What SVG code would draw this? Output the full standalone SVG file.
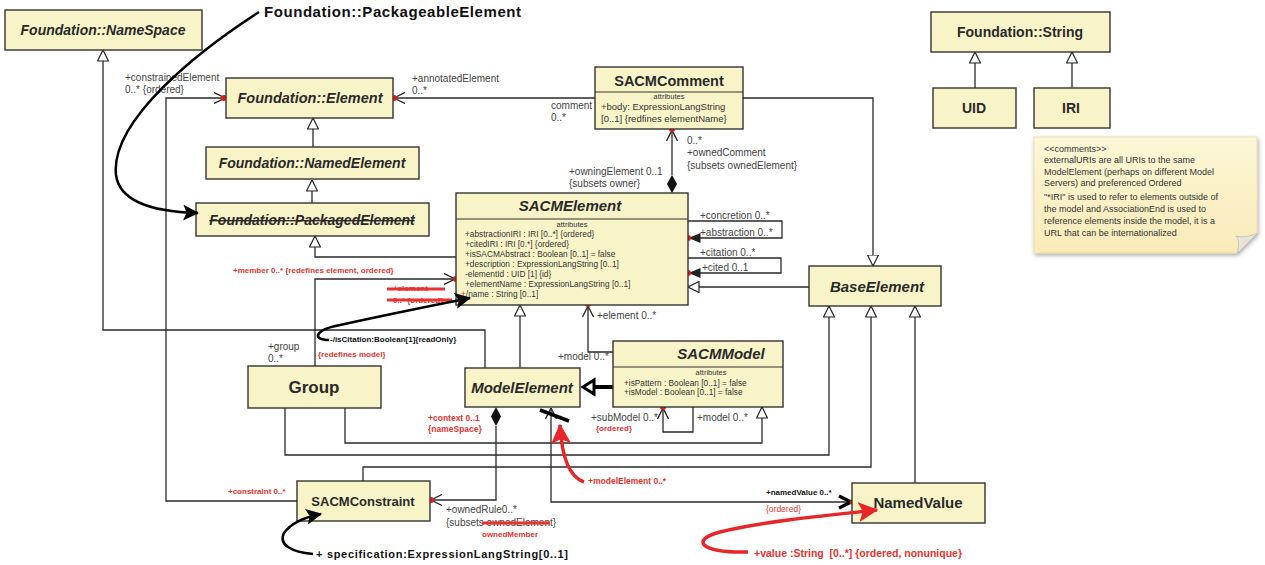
<svg xmlns="http://www.w3.org/2000/svg" width="1265" height="565" viewBox="0 0 1265 565">
  <defs>
    <style>
      .box{fill:#f8f4c8;stroke:#333;stroke-width:1.4}
      .ln{fill:none;stroke:#2a2a2a;stroke-width:1.3}
      .t{font-family:"Liberation Sans",Arial,sans-serif;font-weight:bold;fill:#2a2a2a;text-anchor:middle}
      .ti{font-style:italic}
      .lbl{font-family:"Liberation Sans",Arial,sans-serif;font-size:10px;fill:#444}
      .att{font-family:"Liberation Sans",Arial,sans-serif;font-size:8.3px;fill:#333}
      .hdr{font-family:"Liberation Sans",Arial,sans-serif;font-size:7.5px;fill:#333;text-anchor:middle}
      .big{font-size:9.5px}
      .red{font-family:"Liberation Sans",Arial,sans-serif;font-weight:bold;fill:#e8322f}
      .reg{font-weight:normal}
      .blk{font-family:"Liberation Sans",Arial,sans-serif;font-weight:bold;fill:#111}
      .dot{fill:#e81919}
      .strike{stroke:#e8322f;stroke-width:3}
      .note{font-family:"Liberation Sans",Arial,sans-serif;font-size:9px;fill:#333}
    </style>
    <marker id="gen" viewBox="0 0 12 12" refX="11.5" refY="6" markerWidth="12" markerHeight="12" markerUnits="userSpaceOnUse" orient="auto">
      <path d="M0.5,0.5 L11.5,6 L0.5,11.5 Z" fill="#fff" stroke="#222" stroke-width="1.2"/>
    </marker>
    <marker id="open" viewBox="0 0 12 12" refX="11.5" refY="6" markerWidth="12" markerHeight="12" markerUnits="userSpaceOnUse" orient="auto">
      <path d="M0.5,0.5 L11.5,6 L0.5,11.5" fill="none" stroke="#222" stroke-width="1.3"/>
    </marker>
    <marker id="fill" viewBox="0 0 12 12" refX="11.5" refY="6" markerWidth="12" markerHeight="12" markerUnits="userSpaceOnUse" orient="auto">
      <path d="M0,1 L12,6 L0,11 Z" fill="#222"/>
    </marker>
    <marker id="bigblk" viewBox="0 0 14 14" refX="13" refY="7" markerWidth="16" markerHeight="16" markerUnits="userSpaceOnUse" orient="auto">
      <path d="M0,0 L14,7 L0,14 L3,7 Z" fill="#000"/>
    </marker>
    <marker id="bigred" viewBox="0 0 14 14" refX="13" refY="7" markerWidth="20" markerHeight="20" markerUnits="userSpaceOnUse" orient="auto">
      <path d="M0,0 L14,7 L0,14 L3,7 Z" fill="#e8262a"/>
    </marker>
    <linearGradient id="noteFill" x1="0" y1="0" x2="0" y2="1">
      <stop offset="0" stop-color="#fdf7d6"/>
      <stop offset="1" stop-color="#f9eab8"/>
    </linearGradient>
    <filter id="shadow" x="-10%" y="-10%" width="120%" height="130%">
      <feGaussianBlur in="SourceAlpha" stdDeviation="2"/>
      <feOffset dx="1" dy="2"/>
      <feComponentTransfer><feFuncA type="linear" slope="0.35"/></feComponentTransfer>
      <feMerge><feMergeNode/><feMergeNode in="SourceGraphic"/></feMerge>
    </filter>
  </defs>

  <rect width="1265" height="565" fill="#fff"/>

  <!-- connectors -->
  <g id="connectors">
    <!-- generalizations -->
    <path class="ln" d="M485,368 V330 H103 V50" marker-end="url(#gen)"/>
    <path class="ln" d="M313,147 V118" marker-end="url(#gen)"/>
    <path class="ln" d="M312,203 V180" marker-end="url(#gen)"/>
    <path class="ln" d="M456,257 H315 V236" marker-end="url(#gen)"/>
    <path class="ln" d="M743,98 H873 V266" marker-end="url(#gen)"/>
    <path class="ln" d="M809,287 H688" marker-end="url(#gen)"/>
    <path class="ln" d="M520,368 V305" marker-end="url(#gen)"/>
    <path class="ln" d="M345,408 V443 H762 V407" marker-end="url(#gen)"/>
    <path class="ln" d="M285,408 V455 H829 V306" marker-end="url(#gen)"/>
    <path class="ln" d="M363,481 V467 H871 V306" marker-end="url(#gen)"/>
    <path class="ln" d="M915,483 V306" marker-end="url(#gen)"/>
    <path class="ln" d="M975,88 V52" marker-end="url(#gen)"/>
    <path class="ln" d="M1072,88 V52" marker-end="url(#gen)"/>
    <!-- thick generalization SACMModel to ModelElement -->
    <path d="M613,387 H594" fill="none" stroke="#000" stroke-width="4"/>
    <path d="M594,380 L583,387 L594,394 Z" fill="#fff" stroke="#000" stroke-width="3" stroke-linejoin="miter"/>

    <!-- associations -->
    <path class="ln" d="M297,501 H166 V98 H225" marker-end="url(#open)"/>
    <path class="ln" d="M595,98 H394" marker-end="url(#open)"/>
    <path class="ln" d="M315,366 V279 H455" marker-end="url(#open)"/>
    <path class="ln" d="M672,175 V130" marker-end="url(#open)"/>
    <path d="M672,193 L677,184 L672,175 L667,184 Z" fill="#111"/>
    <path class="ln" d="M688,221 H782 V238 H689" marker-end="url(#fill)"/>
    <path class="ln" d="M688,258 H781 V273 H689" marker-end="url(#fill)"/>
    <path class="ln" d="M613,352 H588 V306" marker-end="url(#open)"/>
    <path class="ln" d="M693,407 V432 H663 V408" marker-end="url(#open)"/>
    <path class="ln" d="M496,426 V500 H431" marker-end="url(#open)"/>
    <path d="M496,407 L501,416.5 L496,426 L491,416.5 Z" fill="#111"/>
    <path class="ln" d="M551,420 V502 H851"/>
    <path class="ln" d="M551,420 V408" marker-end="url(#open)"/>
    <path d="M540,410 L569,421" stroke="#000" stroke-width="3.5"/>
    <path d="M839,496 L851,502 L839,508" fill="none" stroke="#000" stroke-width="3.5"/>

    <!-- end dots -->
    <circle class="dot" cx="224" cy="98" r="3"/>
    <circle class="dot" cx="394" cy="98" r="3"/>
    <circle class="dot" cx="456" cy="279" r="3"/>
    <circle class="dot" cx="672" cy="129" r="3"/>
    <circle class="dot" cx="688" cy="238" r="3"/>
    <circle class="dot" cx="688" cy="273" r="3"/>
    <circle class="dot" cx="588" cy="304" r="3"/>
    <circle class="dot" cx="663" cy="407" r="3"/>
    <circle class="dot" cx="431" cy="500" r="3"/>
    <circle class="dot" cx="852" cy="502" r="2.5"/>

    <!-- connector labels -->
    <text class="lbl" x="125" y="81">+constrainedElement</text>
    <text class="lbl" x="125" y="93">0..* {ordered}</text>
    <text class="lbl" x="412" y="82">+annotatedElement</text>
    <text class="lbl" x="412" y="94">0..*</text>
    <text class="lbl" x="551" y="109">comment</text>
    <text class="lbl" x="551" y="121">0..*</text>
    <text class="lbl" x="687" y="144">0..*</text>
    <text class="lbl" x="687" y="156">+ownedComment</text>
    <text class="lbl" x="687" y="169">{subsets ownedElement}</text>
    <text class="lbl" x="569" y="175">+owningElement  0..1</text>
    <text class="lbl" x="569" y="187">{subsets owner}</text>
    <text class="lbl" x="700" y="219">+concretion 0..*</text>
    <text class="lbl" x="700" y="236">+abstraction 0..*</text>
    <text class="lbl" x="700" y="256">+citation 0..*</text>
    <text class="lbl" x="702" y="271">+cited 0..1</text>
    <text class="lbl" x="597" y="319">+element 0..*</text>
    <text class="lbl" x="558" y="360">+model 0..*</text>
    <text class="lbl" x="268" y="350">+group</text>
    <text class="lbl" x="268" y="362">0..*</text>
    <text class="lbl" x="591" y="421">+subModel 0..*</text>
    <text class="lbl" x="697" y="421">+model 0..*</text>
    <text class="lbl" x="446" y="513">+ownedRule0..*</text>
    <text class="lbl" x="446" y="526">{subsets ownedElement}</text>
    <line class="strike" x1="482" y1="523" x2="550" y2="523"/>

    <text class="red" x="233" y="273" font-size="8">+member 0..* {redefines element, ordered}</text>
    <text class="red" x="393" y="291" font-size="8">+element</text>
    <text class="red" x="393" y="303" font-size="8">0..* {ordered}</text>
    <line class="strike" x1="387" y1="289" x2="445" y2="289"/>
    <line class="strike" x1="387" y1="300" x2="452" y2="300"/>
    <text class="red" x="318" y="357" font-size="8">{redefines model}</text>
    <text class="red" x="596" y="431" font-size="8">{ordered}</text>
    <text class="red" x="428" y="421" font-size="8.5">+context 0..1</text>
    <text class="red" x="428" y="432" font-size="8.5">{nameSpace}</text>
    <text class="red" x="588" y="484" font-size="8.5">+modelElement 0..*</text>
    <text class="red" x="228" y="494" font-size="8">+constraint 0..*</text>
    <text class="red" x="482" y="537" font-size="8">ownedMember</text>
    <text class="blk" x="766" y="495" font-size="8">+namedValue 0..*</text>
    <text class="red reg" x="766" y="512" font-size="8.5">{ordered}</text>
    <text class="blk" x="330" y="342" font-size="8">-/isCitation:Boolean[1]{readOnly}</text>
    <text class="red" x="754" y="557" font-size="10.5" xml:space="preserve">+value :String  [0..*] {ordered, nonunique}</text>
    <text class="blk" x="264" y="17" font-size="15" textLength="257">Foundation::PackageableElement</text>
    <text class="blk" x="316" y="558" font-size="11" textLength="252">+ specification:ExpressionLangString[0..1]</text>
  </g>

  <!-- nodes -->
  <g id="NameSpace">
    <rect class="box" x="5" y="10" width="197" height="40"/>
    <text class="t ti" x="103" y="35" font-size="14">Foundation::NameSpace</text>
  </g>
  <g id="Element">
    <rect class="box" x="226" y="78" width="167" height="40"/>
    <text class="t ti" x="310" y="103" font-size="14.5">Foundation::Element</text>
  </g>
  <g id="NamedElement">
    <rect class="box" x="206" y="147" width="213" height="32"/>
    <text class="t ti" x="312" y="168" font-size="14">Foundation::NamedElement</text>
  </g>
  <g id="PackagedElement">
    <rect class="box" x="196" y="203" width="233" height="33"/>
    <text class="t ti" x="312" y="225" font-size="14" text-decoration="line-through">Foundation::PackagedElement</text>
  </g>
  <g id="SACMComment">
    <rect class="box" x="595" y="67" width="148" height="62"/>
    <line x1="595" y1="92" x2="743" y2="92" stroke="#333" stroke-width="1.2"/>
    <text class="t" x="669" y="86" font-size="14.5">SACMComment</text>
    <text class="hdr" x="669" y="99">attributes</text>
    <text class="att big" x="601" y="110">+body: ExpressionLangString</text>
    <text class="att big" x="601" y="122">[0..1] {redfines elementName}</text>
  </g>
  <g id="SACMElement">
    <rect class="box" x="456" y="193" width="232" height="112"/>
    <line x1="456" y1="219" x2="688" y2="219" stroke="#333" stroke-width="1.2"/>
    <text class="t ti" x="570" y="211" font-size="15">SACMElement</text>
    <text class="hdr" x="572" y="227">attributes</text>
    <text class="att" x="465" y="237">+abstractionIRI : IRI [0..*] {ordered}</text>
    <text class="att" x="465" y="247">+citedIRI : IRI [0.*] {ordered}</text>
    <text class="att" x="465" y="257">+isSACMAbstract : Boolean [0..1] = false</text>
    <text class="att" x="465" y="267">+description : ExpressionLangString [0..1]</text>
    <text class="att" x="465" y="277">-elementId : UID [1] {id}</text>
    <text class="att" x="465" y="287">+elementName : ExpressionLangString [0..1]</text>
    <text class="att" x="461" y="297"><tspan fill="#e8322f">+</tspan>/name : String [0..1]</text>
  </g>
  <g id="BaseElement">
    <rect class="box" x="809" y="266" width="132" height="40"/>
    <text class="t ti" x="877" y="292" font-size="15">BaseElement</text>
  </g>
  <g id="SACMModel">
    <rect class="box" x="613" y="341" width="170" height="66"/>
    <line x1="613" y1="367" x2="783" y2="367" stroke="#333" stroke-width="1.2"/>
    <text class="t ti" x="721" y="359" font-size="15">SACMModel</text>
    <text class="hdr" x="711" y="375">attributes</text>
    <text class="att" x="624" y="386">+isPattern : Boolean [0..1] = false</text>
    <text class="att" x="624" y="395">+isModel : Boolean [0..1] = false</text>
  </g>
  <g id="Group">
    <rect class="box" x="248" y="366" width="133" height="42"/>
    <text class="t" x="314" y="393" font-size="17">Group</text>
  </g>
  <g id="ModelElement">
    <rect class="box" x="465" y="368" width="115" height="39"/>
    <text class="t ti" x="522" y="393" font-size="15">ModelElement</text>
  </g>
  <g id="SACMConstraint">
    <rect class="box" x="297" y="481" width="133" height="40"/>
    <text class="t" x="363" y="506" font-size="13">SACMConstraint</text>
  </g>
  <g id="NamedValue">
    <rect class="box" x="852" y="483" width="133" height="40"/>
    <text class="t" x="918" y="508" font-size="15">NamedValue</text>
  </g>
  <g id="String">
    <rect class="box" x="931" y="12" width="179" height="40"/>
    <text class="t" x="1020" y="37" font-size="14">Foundation::String</text>
  </g>
  <g id="UID">
    <rect class="box" x="933" y="88" width="83" height="40"/>
    <text class="t" x="974" y="113" font-size="14">UID</text>
  </g>
  <g id="IRI">
    <rect class="box" x="1034" y="88" width="76" height="40"/>
    <text class="t" x="1071" y="113" font-size="14">IRI</text>
  </g>
  <g id="CommentNote">
    <path d="M1034,137 H1257 V233 L1237,253 H1034 Z" fill="url(#noteFill)" stroke="#e6d9a5" stroke-width="0.8" filter="url(#shadow)"/>
    <path d="M1237,253 C1240,244 1238,238 1236,236 C1244,238 1251,236 1257,233" fill="#e8e4d8" stroke="#bbb" stroke-width="0.8"/>
    <text class="note" x="1044" y="152">&lt;&lt;comments&gt;&gt;</text>
    <text class="note" x="1044" y="163">externalURIs are all URIs to the same</text>
    <text class="note" x="1044" y="175">ModelElement (perhaps on different Model</text>
    <text class="note" x="1044" y="186">Servers) and preferenced Ordered</text>
    <text class="note" x="1044" y="200">"*IRI" is used to refer to elements outside of</text>
    <text class="note" x="1044" y="212">the model and AssociationEnd is used to</text>
    <text class="note" x="1044" y="224">reference elements inside the model, it is a</text>
    <text class="note" x="1044" y="236">URL that can be internationalized</text>
  </g>

  <!-- callout curves drawn above the boxes -->
  <g id="callouts">
    <path d="M259,12 C200,50 110,120 116,175 C120,205 160,212 198,213" fill="none" stroke="#000" stroke-width="2.5" marker-end="url(#bigblk)"/>
    <path d="M329,340 C312,340 314,330 340,325 C390,314 430,306 470,298" fill="none" stroke="#000" stroke-width="2.5" marker-end="url(#bigblk)"/>
    <path d="M313,554 C292,552 278,545 284,533 C292,522 305,517 321,514" fill="none" stroke="#000" stroke-width="2.5" marker-end="url(#bigblk)"/>
    <path d="M584,482 C572,478 562,462 560,425" fill="none" stroke="#e8262a" stroke-width="3.5" marker-end="url(#bigred)"/>
    <path d="M748,552 C700,553 690,540 720,532 C760,522 820,516 877,510" fill="none" stroke="#e8262a" stroke-width="3.5" marker-end="url(#bigred)"/>
  </g>
</svg>
